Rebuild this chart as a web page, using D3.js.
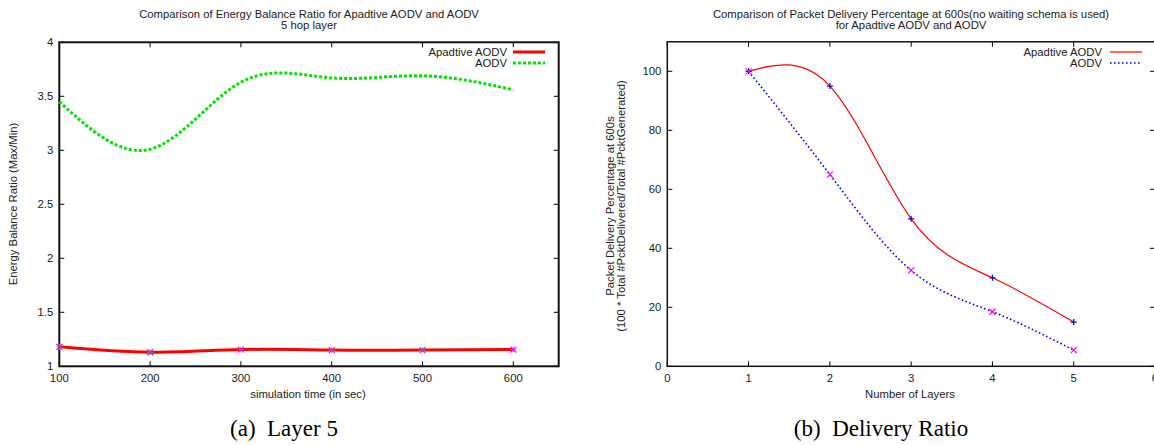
<!DOCTYPE html>
<html><head><meta charset="utf-8">
<script src="https://cdn.jsdelivr.net/npm/d3@7"></script>
<style>
html,body{margin:0;padding:0;background:#fff;}
svg{display:block;font-family:"Liberation Sans",Arial,sans-serif;}
</style></head>
<body><svg id="c" width="1154" height="445"></svg>
<script>
// ---- data: (a) Layer 5 ----
const timeSteps = [100, 200, 300, 400, 500, 600];
const ebrAdaptive = [1.18, 1.13, 1.155, 1.15, 1.15, 1.155];
const ebrAodv = [3.45, 3.01, 3.63, 3.67, 3.69, 3.56];
const aXTicks = [100, 200, 300, 400, 500, 600];
const aYTicks = [1, 1.5, 2, 2.5, 3, 3.5, 4];
// ---- data: (b) Delivery Ratio ----
const layers = [1, 2, 3, 4, 5];
const pdrAdaptive = [100, 95, 50, 30, 15];
const pdrAodv = [100, 65, 32.5, 18.5, 5.5];
const bXTicks = [0, 1, 2, 3, 4, 5, 6];
const bYTicks = [0, 20, 40, 60, 80, 100];
const seriesNames = ["Apadtive AODV", "AODV"];

const svg = d3.select("#c");
const txt = "#222";
const fs = 11.3;

function frame(g, x, y, xt, yt, fmtX, fmtY, sw) {
  const [x0, x1] = x.range(), [y0, y1] = y.range();
  const tl = 5;
  const ax = g.append("g").attr("stroke", "#000").attr("stroke-width", 1);
  xt.forEach(v => {
    ax.append("line").attr("x1", x(v)).attr("x2", x(v)).attr("y1", y0).attr("y2", y0 - tl);
    ax.append("line").attr("x1", x(v)).attr("x2", x(v)).attr("y1", y1).attr("y2", y1 + tl);
  });
  yt.forEach(v => {
    ax.append("line").attr("x1", x0).attr("x2", x0 + tl).attr("y1", y(v)).attr("y2", y(v));
    ax.append("line").attr("x1", x1).attr("x2", x1 - tl).attr("y1", y(v)).attr("y2", y(v));
  });
  g.append("rect").attr("x", x0).attr("y", y1).attr("width", x1 - x0).attr("height", y0 - y1)
    .attr("fill", "none").attr("stroke", "#111").attr("stroke-width", sw);
  g.append("g").selectAll("text").data(xt).join("text")
    .attr("x", d => x(d)).attr("y", y0 + 16).attr("text-anchor", "middle")
    .attr("font-size", fs).attr("fill", txt).text(fmtX);
  g.append("g").selectAll("text").data(yt).join("text")
    .attr("x", x0 - 6).attr("y", d => y(d) + 4).attr("text-anchor", "end")
    .attr("font-size", fs).attr("fill", txt).text(fmtY);
}

function crossX(g, cx, cy, s, col, w) {
  g.append("path").attr("d", `M${cx-s},${cy-s}L${cx+s},${cy+s}M${cx-s},${cy+s}L${cx+s},${cy-s}`)
    .attr("stroke", col).attr("stroke-width", w).attr("fill", "none");
}
function plus(g, cx, cy, s, col, w) {
  g.append("path").attr("d", `M${cx-s},${cy}L${cx+s},${cy}M${cx},${cy-s}L${cx},${cy+s}`)
    .attr("stroke", col).attr("stroke-width", w).attr("fill", "none");
}

// ===== Chart (a) =====
{
  const g = svg.append("g");
  const x = d3.scaleLinear().domain([100, 650]).range([59.3, 558.7]);
  const y = d3.scaleLinear().domain([1, 4]).range([366.3, 42.3]);
  frame(g, x, y, aXTicks, aYTicks, d => d, d => d3.format("")(d), 2);
  const line = d3.line().x((d, i) => x(timeSteps[i])).y(d => y(d)).curve(d3.curveNatural);
  g.append("path").attr("d", line(ebrAodv)).attr("fill", "none").attr("stroke", "#00e600")
    .attr("stroke-width", 3).attr("stroke-dasharray", "3,2");
  g.append("path").attr("d", line(ebrAdaptive)).attr("fill", "none").attr("stroke", "#ff0000")
    .attr("stroke-width", 3);
  ebrAdaptive.forEach((v, i) => {
    plus(g, x(timeSteps[i]), y(v), 3, "#33cc33", 1);
    crossX(g, x(timeSteps[i]), y(v), 3, "#ff00ff", 1.2);
  });
  g.append("text").attr("x", 309).attr("y", 18).attr("text-anchor", "middle").attr("font-size", fs).attr("fill", txt)
    .text("Comparison of Energy Balance Ratio for Apadtive AODV and AODV");
  g.append("text").attr("x", 309).attr("y", 29).attr("text-anchor", "middle").attr("font-size", fs).attr("fill", txt)
    .text("5 hop layer");
  g.append("text").attr("x", 308).attr("y", 398).attr("text-anchor", "middle").attr("font-size", fs).attr("fill", txt)
    .text("simulation time (in sec)");
  g.append("text").attr("transform", "translate(17,204) rotate(-90)").attr("text-anchor", "middle")
    .attr("font-size", fs).attr("fill", txt).text("Energy Balance Ratio (Max/Min)");
  const lg = [[ "#ff0000", null ], [ "#00e600", "3,2" ]];
  seriesNames.forEach((n, i) => {
    const yy = 52 + i * 11;
    g.append("text").attr("x", 507).attr("y", yy + 4).attr("text-anchor", "end").attr("font-size", fs).attr("fill", txt).text(n);
    g.append("line").attr("x1", 513).attr("x2", 545).attr("y1", yy).attr("y2", yy)
      .attr("stroke", lg[i][0]).attr("stroke-width", 3).attr("stroke-dasharray", lg[i][1]);
  });
  g.append("text").attr("x", 284).attr("y", 436).attr("text-anchor", "middle")
    .attr("font-family", "Liberation Serif, Times New Roman, serif").attr("font-size", 23).attr("fill", "#000")
    .text("(a)\u2002Layer 5");
}

// ===== Chart (b) =====
{
  const g = svg.append("g");
  const x = d3.scaleLinear().domain([0, 6]).range([667.3, 1155]);
  const y = d3.scaleLinear().domain([0, 110]).range([366.3, 41.8]);
  frame(g, x, y, bXTicks, bYTicks, d => d, d => d, 1.5);
  const line = d3.line().x((d, i) => x(layers[i])).y(d => y(d)).curve(d3.curveNatural);
  g.append("path").attr("d", line(pdrAdaptive)).attr("fill", "none").attr("stroke", "#ff0000")
    .attr("stroke-width", 1.2);
  g.append("path").attr("d", line(pdrAodv)).attr("fill", "none").attr("stroke", "#0000ff")
    .attr("stroke-width", 1.6).attr("stroke-dasharray", "1.6,2.4");
  pdrAdaptive.forEach((v, i) => plus(g, x(layers[i]), y(v), 3, "#0000cc", 1.2));
  pdrAodv.forEach((v, i) => crossX(g, x(layers[i]), y(v), 3, "#ff00ff", 1.2));
  g.append("text").attr("x", 911).attr("y", 18).attr("text-anchor", "middle").attr("font-size", fs).attr("fill", txt)
    .text("Comparison of Packet Delivery Percentage at 600s(no waiting schema is used)");
  g.append("text").attr("x", 911).attr("y", 29).attr("text-anchor", "middle").attr("font-size", fs).attr("fill", txt)
    .text("for Apadtive AODV and AODV");
  g.append("text").attr("x", 910).attr("y", 398).attr("text-anchor", "middle").attr("font-size", fs).attr("fill", txt)
    .text("Number of Layers");
  g.append("text").attr("transform", "translate(614,206) rotate(-90)").attr("text-anchor", "middle")
    .attr("font-size", fs).attr("fill", txt).text("Packet Delivery Percentage at 600s");
  g.append("text").attr("transform", "translate(625,206) rotate(-90)").attr("text-anchor", "middle")
    .attr("font-size", fs).attr("fill", txt).text("(100 * Total #PcktDelivered/Total #PcktGenerated)");
  const lg = [[ "#ff0000", null, 1.2 ], [ "#0000ff", "1.6,2.4", 1.6 ]];
  seriesNames.forEach((n, i) => {
    const yy = 52 + i * 11;
    g.append("text").attr("x", 1102).attr("y", yy + 4).attr("text-anchor", "end").attr("font-size", fs).attr("fill", txt).text(n);
    g.append("line").attr("x1", 1110).attr("x2", 1142).attr("y1", yy).attr("y2", yy)
      .attr("stroke", lg[i][0]).attr("stroke-width", lg[i][2]).attr("stroke-dasharray", lg[i][1]);
  });
  g.append("text").attr("x", 881).attr("y", 436).attr("text-anchor", "middle")
    .attr("font-family", "Liberation Serif, Times New Roman, serif").attr("font-size", 23).attr("fill", "#000")
    .text("(b)\u2002Delivery Ratio");
}
</script></body></html>
